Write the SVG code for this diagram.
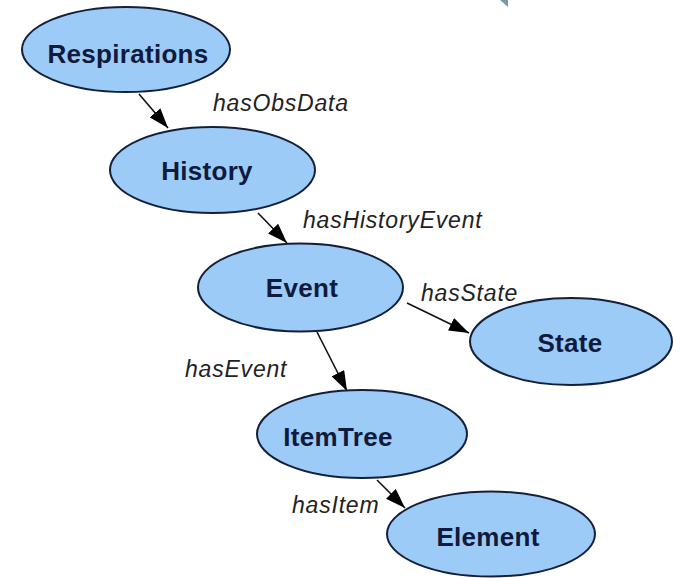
<svg xmlns="http://www.w3.org/2000/svg" width="673" height="578" viewBox="0 0 673 578">
<style>
.node ellipse{fill:#9dcbf7;stroke:#14203a;stroke-width:2}
.node text{font-family:"Liberation Sans",Arial,sans-serif;font-weight:bold;font-size:26px;letter-spacing:0.3px;fill:#101a3c}
.lbl{font-family:"Liberation Sans",Arial,sans-serif;font-style:italic;font-size:23px;letter-spacing:0.8px;fill:#222}
.edge{stroke:#111;stroke-width:1.6;fill:none;marker-end:url(#arr)}
</style>
<defs>
<marker id="arr" viewBox="0 0 20 14" refX="20" refY="7" markerWidth="20" markerHeight="14" markerUnits="userSpaceOnUse" orient="auto">
<path d="M0,0 L20,7 L0,14 Z" fill="#000"/>
</marker>
</defs>
<rect width="673" height="578" fill="#fff"/>
<polygon points="500,0 508,0 508,7" fill="#7a9aa8"/>
<g id="connectors">
<line class="edge" x1="139" y1="94" x2="168" y2="128"/>
<line class="edge" x1="258" y1="213" x2="287" y2="243"/>
<line class="edge" x1="407" y1="303" x2="469" y2="333"/>
<line class="edge" x1="317" y1="332" x2="347" y2="391"/>
<line class="edge" x1="377" y1="480" x2="405" y2="508"/>
<text class="lbl" x="213" y="111">hasObsData</text>
<text class="lbl" x="303" y="228">hasHistoryEvent</text>
<text class="lbl" x="421" y="301">hasState</text>
<text class="lbl" x="185" y="377">hasEvent</text>
<text class="lbl" x="292" y="513">hasItem</text>
</g>
<g id="respirations" class="node">
<ellipse cx="126" cy="49.5" rx="104" ry="42.5"/>
<text x="128" y="63" text-anchor="middle">Respirations</text>
</g>
<g id="history" class="node">
<ellipse cx="212.5" cy="170" rx="102.5" ry="43"/>
<text x="207" y="180" text-anchor="middle">History</text>
</g>
<g id="event" class="node">
<ellipse cx="300.5" cy="287.5" rx="102.5" ry="44"/>
<text x="302" y="297" text-anchor="middle">Event</text>
</g>
<g id="state" class="node">
<ellipse cx="571" cy="341.5" rx="101" ry="43.5"/>
<text x="570" y="352" text-anchor="middle">State</text>
</g>
<g id="itemtree" class="node">
<ellipse cx="362" cy="434" rx="105" ry="44"/>
<text x="338" y="446" text-anchor="middle">ItemTree</text>
</g>
<g id="element" class="node">
<ellipse cx="491" cy="534" rx="104" ry="42.5"/>
<text x="488" y="546" text-anchor="middle">Element</text>
</g>
</svg>
